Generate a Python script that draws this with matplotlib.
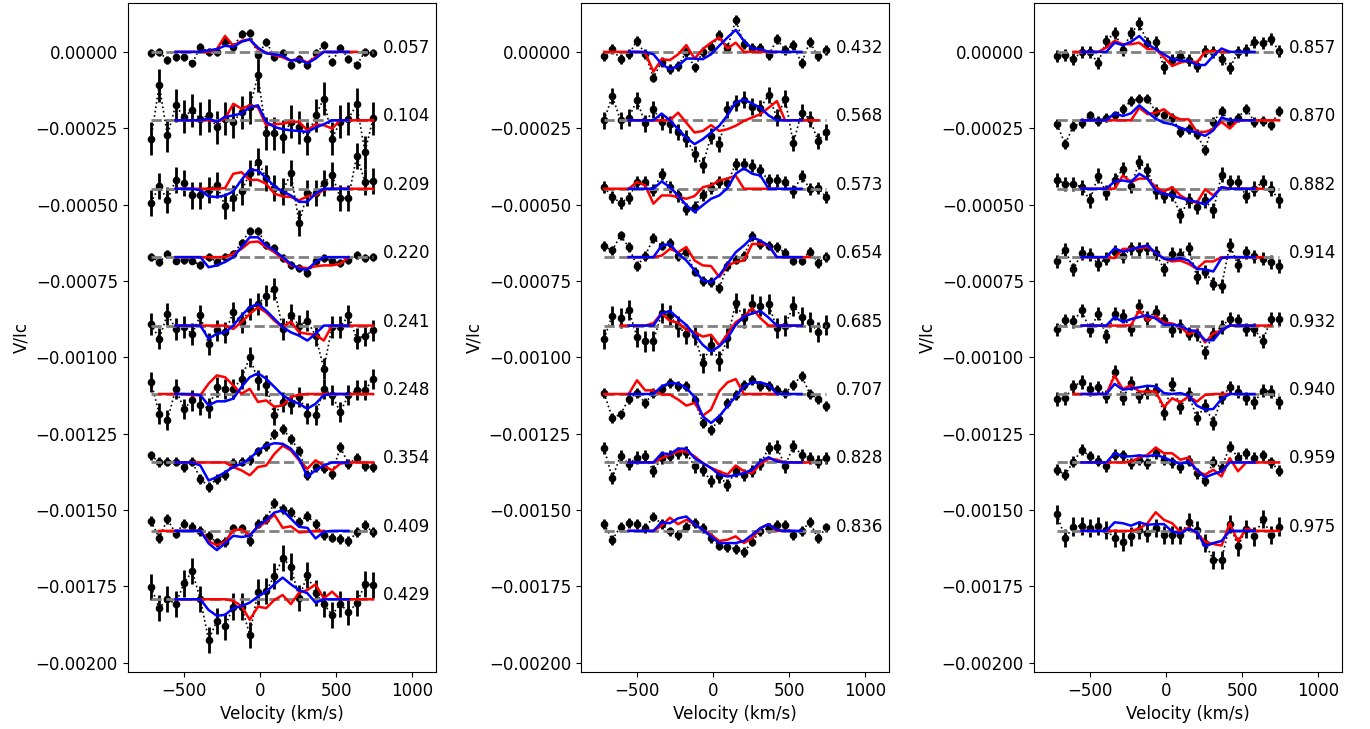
import numpy as np
import matplotlib
matplotlib.use('Agg')
import matplotlib.pyplot as plt
from matplotlib.ticker import FuncFormatter

# velocity grid of the LSD profiles (km/s)
vel = [-715, -661, -607, -553, -499, -445, -391, -337, -283, -229, -175, -121, -67, -13,
       41, 95, 149, 203, 257, 311, 365, 419, 473, 527, 581, 635, 689, 743]

# all V/Ic values below are in units of 1e-5
shift = 22.4

# ---- panel 1
phases_1 = ['0.057', '0.104', '0.209', '0.220', '0.241', '0.248', '0.354', '0.409', '0.429']
obs_1 = [
    [-0.5, 0, -2.7, -1.6, -1.6, -3.8, 1.6, 0, 0, 3.6, 1.6, 5.8, 6.1, -1.1, 3.3, -1.6, -0.5, -4.3, -2.2, -4.3, -0.5, 2.2, -3.3, 1.4, -2.2, -4.3, 0, -0.5],
    [-6.0, 11.4, -4.9, 4.9, 1.1, 3.3, 0.5, 1.6, -2.2, 0.5, -0.5, 2.7, 4.3, 14.7, -4.3, -4.3, -5.4, -0.5, -2.2, -6.0, 1.6, 7.1, -6.0, -0.5, 0.5, 5.2, -10.4, 0.7],
    [-4.6, 0.8, -3.6, 2.9, 1.8, -2.2, -2.2, -0.3, 1.3, -5.7, -3.0, -0.9, 5.1, 8.9, 3.5, 0.2, -0.9, 5.1, -11.2, -1.4, -1.4, 1.8, 4.6, -3.0, -3.0, 10.8, 2.3, 2.5],
    [0.2, -1.6, 1.1, -1.1, -0.9, -1.1, -2.7, 0.2, -1.6, 0.2, 1.1, 4.6, 8.7, 8.7, 4.0, 2.9, -0.3, -2.5, -3.6, -5.2, -1.4, -0.3, -1.4, -2.0, -0.9, 0.8, -0.3, 0],
    [0.5, -4.3, 3.8, -1.1, -0.5, -2.7, 3.3, -6.0, -1.6, -2.2, 4.3, 1.1, 5.4, 7.1, 9.8, 12.0, -1.1, 3.5, 0, 1.6, -3.3, -14.1, -0.5, -0.5, 3.3, -4.3, -3.3, -1.6],
    [3.9, -6.4, -8.6, 1.7, -4.8, -2.1, -3.7, -4.6, 2.3, 1.7, 1.7, 5.0, 12.1, 4.5, 2.8, -7.0, -2.6, -3.2, -1.0, -6.4, -7.0, 1.7, -0.4, -5.9, -0.4, 1.2, 1.2, 5.0],
    [2.3, 0.1, 0.3, 0.3, -1.5, 0.3, -5.3, -8.0, -5.3, -4.2, -0.2, 0.3, 0.7, 3.6, 5.5, 9.3, 11.0, 7.7, 3.9, -4.2, -1.5, -1.8, -3.7, 5.0, -0.4, 1.4, -1.3, -1.5],
    [3.2, -2.3, 3.8, -0.9, 2.4, 1.3, 0, -1.7, -3.8, -3.6, 0.8, 0.8, -3.3, 2.4, 3.8, 9.2, 7.1, 6.2, 2.9, 4.9, 2.2, -1.4, -2.2, -2.7, -3.4, -0.5, 1.8, -0.5],
    [4.1, -2.9, 0.1, -1.6, 5.2, 9.2, 0.1, -13.3, -7.1, -8.9, -2.4, -2.4, -11.6, 2.5, 2.7, 7.7, 13.4, 10.7, 0.5, 7.9, 2.0, -1.6, -5.1, -1.6, -4.2, -1.3, 4.9, 4.7],
]
err_1 = [1.3, 5.4, 4.3, 1.3, 3.5, 3.3, 1.6, 1.6, 4.3]
# models on grid points 3..24
blue_1 = [
    [0, 0, 0, 0, 0.5, 0.9, 2.0, 1.6, 3.3, 4.1, 1.4, -0.5, -0.8, -1.3, -2.9, -2.4, -3.8, -2.2, 0, 0, 0, 0],
    [0, 0, 0, 0, 0.5, -0.5, 1.1, 1.6, 2.2, 4.3, 4.9, -0.5, -2.2, -2.9, -3.3, -3.5, -3.8, -2.4, -1.3, 0, 0, 0],
    [0, 0, 0, -0.5, -2.5, -2.7, -2.2, -0.9, 2.9, 6.2, 6.0, 3.5, 0.8, -0.9, -2.2, -4.3, -4.3, -1.6, 0, 0, 0, 0],
    [0, 0, 0, 0, -3.3, -2.7, -1.6, 0, 3.3, 6.5, 6.5, 3.8, 2.2, 0, -2.2, -3.8, -4.1, -1.6, 0, 0, 0, 0],
    [0, 0, 0, 0, -4.3, -2.7, -2.2, 0, 3.3, 6.0, 7.1, 4.9, 2.2, -0.5, -2.2, -3.3, -4.9, -2.7, 0, 0, 0, 0],
    [0, 0, 0, -0.4, -3.7, -2.4, -2.4, -1.5, 2.3, 5.5, 6.8, 5.0, 2.3, -0.4, -2.1, -3.2, -4.8, -3.2, -0.4, 0, 0, 0],
    [0, 0, 0, -1.0, -5.9, -4.8, -3.2, -1.5, -0.4, 1.2, 3.9, 5.5, 6.3, 6.1, 4.5, 1.2, -4.6, -2.6, -1.0, 0, 0, 0],
    [0, 0, 0, 0, -4.1, -6.3, -4.1, -1.6, -2.0, -1.6, 1.6, 3.5, 6.0, 6.7, 4.0, 1.3, 1.0, -2.5, -0.3, 0, 0, 0],
    [0, 0, 0, 0, -3.5, -5.4, -5.1, -2.9, -2.2, -1.1, 0.9, 2.5, 4.9, 7.1, 4.9, 3.0, 2.0, -1.1, 0, 0, 0, 0],
]
red_1 = [
    [0, 0, 0, 0, 0, 0.9, 5.2, 2.0, 3.6, 4.1, 0.9, -0.2, -1.1, -1.8, -2.9, -2.2, -3.5, -1.8, 0, 0, 0, 0],
    [0, 0, 0, 0, 0, -0.5, 0.5, 5.4, 3.8, 4.9, 4.3, -1.6, -1.3, -1.1, -0.5, -0.5, -3.3, -1.3, -1.6, -2.7, 0, 0],
    [0, 0, 0, 0, 0, 0, 0.2, 4.9, 5.4, 2.9, 2.9, 1.6, -1.6, -2.5, -2.7, -3.8, -2.5, -2.2, -0.3, 0, 0, 0],
    [0, 0, 0, 0, 0, 0, 0, 1.1, 2.7, 4.9, 5.1, 3.3, 1.6, -0.5, -2.7, -3.3, -3.6, -3.0, -2.7, -2.7, -2.2, 0],
    [0, 0, 0, 0, 0, 0, 0, -1.1, 1.1, 3.8, 6.0, 4.3, 1.6, -0.5, 1.3, -2.2, -2.7, -3.0, -4.9, 0, 0, 0],
    [0, 0, -0.4, -0.4, 3.4, 6.1, 5.5, 2.8, 0.1, 1.7, -2.6, -2.1, -4.2, -3.7, -1.0, -0.2, 0, 0, 0, 0, 0, 0],
    [0, 0, 0, 0, 0, 0, 0, -1.5, -2.6, -4.2, -1.5, -1.0, 2.8, 5.5, 3.9, 0.7, -2.1, 0.7, -1.0, -2.6, -0.4, 0],
    [0, 0, 0, 0, -3.4, -4.7, -3.6, 0.2, 0.5, -1.4, 1.3, 2.9, 5.3, 1.0, 1.5, -0.5, -0.3, 0, 0, 0, 0, 0],
    [0, 0, 0, 0, 0, 0, 0, -0.5, -2.2, -6.7, -2.4, -2.9, -0.2, 1.4, -1.6, 2.2, 3.0, 4.9, 0.3, 2.5, 0, 0],
]
red_span_1 = [(3, 25), (3, 27), (3, 27), (3, 24), (3, 27), (1, 27), (3, 27), (1, 21), (3, 27)]

# ---- panel 2
phases_2 = ['0.432', '0.568', '0.573', '0.654', '0.685', '0.707', '0.828', '0.836']
obs_2 = [
    [-1.5, 0.9, -2.4, -0.8, 3.6, -0.8, -8.4, -3.3, -5.7, -4.6, 0, -5.1, 0, 1.6, 5.4, 1.4, 10.4, 2.5, 1.4, 1.4, -1.1, 4.1, 0.7, 2.2, -3.7, 3.3, -1.5, 0.7],
    [0, 7.9, 0, 0.9, 6.5, -1.0, 3.6, -0.5, -1.3, -3.8, -6.0, -11.1, -14.7, -5.1, -7.8, 3.6, 5.7, 6.8, 4.5, 4.1, 8.2, 0.9, 7.1, -7.5, 2.5, 0.5, -6.7, -3.8],
    [0.5, -2.7, -4.6, -3.0, 2.2, 2.2, -0.5, 4.9, 0.5, -2.2, -6.7, -6.0, -2.0, 0.2, 2.2, 1.8, 8.2, 8.2, 7.6, 6.0, 2.7, 2.7, 2.2, -0.9, 4.1, 0, 0.2, -2.7],
    [3.6, 2.2, 7.1, 3.3, -2.9, 0.5, 6.2, 3.8, 4.7, 0.5, 1.6, -4.7, -7.9, -8.2, -10.1, -2.9, -0.8, 0.5, 6.8, 4.3, 3.8, 3.3, 1.4, -1.1, -1.1, 1.8, -1.8, 0],
    [-4.3, 3.2, 2.4, 5.1, -3.6, -5.2, -5.0, 4.0, 3.3, -0.3, -2.8, -3.0, -12.3, -6.3, -11.5, -4.1, 7.3, 2.4, 7.0, 6.5, 7.0, -0.9, 0, 6.5, 2.9, 1.3, -2.2, 0.2],
    [0.3, -7.8, -6.7, -1.6, 0.3, -2.9, 0.3, 1.6, 3.6, 2.7, 2.5, -1.8, -9.5, -11.8, -8.2, -2.9, -0.2, 3.0, 4.7, 2.5, 2.7, 1.4, 0.3, 3.0, 6.0, 0.1, -1.6, -3.8],
    [4.7, -5.1, 2.2, -0.5, 1.6, 2.2, -2.9, 1.6, 2.2, 3.0, 3.3, -1.3, -2.4, -6.2, -4.6, -7.3, -2.9, -4.1, -2.9, -0.5, 4.7, 5.2, -1.3, 5.5, 2.5, 1.4, 0.3, 1.4],
    [2.2, -2.9, 1.4, 2.5, 2.2, 0.9, 4.7, 2.2, -0.2, -1.3, 1.4, 2.5, 0.9, -2.4, -4.8, -5.4, -5.9, -7.0, -3.5, -0.2, 0.9, 2.0, 2.0, -1.3, 0, 2.8, -2.4, 1.1],
]
err_2 = [1.6, 2.7, 2.0, 1.6, 3.3, 1.6, 2.0, 1.6]
blue_2 = [
    [0, 0, 0, -0.8, -4.0, -5.7, -4.6, -2.2, -2.2, -2.4, -0.8, 2.0, 4.7, 7.2, 3.6, 1.1, 0.9, 0, 0, 0, 0, 0],
    [0, 0, 0, 0, 2.2, 0, -2.9, -5.7, -7.8, -6.2, -4.0, -1.8, 1.6, 5.8, 6.8, 5.5, 4.1, 1.6, 0, 0, 0, 0],
    [0, 0, 0, 0, 2.4, 0.5, -2.2, -5.4, -7.6, -5.4, -3.3, -2.2, 0.2, 4.9, 6.7, 4.9, 4.3, 0, 0, 0, 0, 0],
    [0, 0, 0, 0, 3.8, 4.3, 1.1, -1.1, -4.3, -7.6, -8.2, -6.0, -2.2, 1.6, 3.8, 6.5, 5.4, 3.8, 0, 0, 0, 0],
    [0, 0, 0, 0, 4.0, 4.8, 2.4, 0.2, -3.0, -6.3, -8.5, -6.8, -4.1, 0.2, 2.9, 4.0, 4.8, 2.6, 0, 0, 0, 0],
    [0, 0, 0, 0, 2.5, 3.6, 3.4, 2.0, -1.0, -7.3, -9.5, -7.3, -4.0, -0.8, 2.5, 3.8, 3.8, 3.0, 0, 0, 0, 0],
    [0, 0, 0, 0, 3.0, 2.7, 4.5, 4.5, 1.4, -0.2, -1.8, -4.0, -4.6, -4.2, -3.5, -2.4, 0.3, 1.7, 0.3, 0, 0, 0],
    [0, 0, 0, 0, 2.8, 2.5, 4.1, 4.7, 2.2, 0.3, -1.8, -4.0, -4.0, -4.0, -3.3, -1.3, 0.9, 2.2, 0.3, 0, 0, 0],
]
red_2 = [
    [0, 0, -0.2, -6.5, -2.4, -2.7, -0.8, 2.2, -2.2, 0.9, 3.0, 4.7, 1.1, 3.0, 0, 0, 0, 0, 0, 0, 0, 0],
    [0, 0, 0, 0, 0, 0, 2.5, -0.8, -4.0, -3.5, -1.6, -3.5, -2.9, -1.8, -0.2, 0.9, 2.0, 4.1, 6.3, 0, 0, 0],
    [0, 2.2, 1.1, -4.9, -2.2, -2.2, -2.7, -3.3, -2.4, 0.5, 1.1, 2.7, 3.3, 4.3, 0, 0, 0, 0, 0, 0, 0, 0],
    [0, 0, 0, 0, 0.5, 2.7, 1.6, 3.3, -1.1, -2.7, -2.9, -6.5, -2.7, -1.6, -1.1, 4.3, 4.3, 3.8, 0, 0, 0, 0],
    [0, 0, 0, 0.8, 4.0, 1.5, 1.0, -1.4, -2.2, -3.6, -3.0, -6.5, -2.8, 1.1, 2.9, 5.7, 2.4, 0, 0, 0, 0, 0],
    [0, 4.5, 1.2, 1.2, -0.2, -0.2, -1.8, -3.8, -2.9, -7.1, -5.1, 0.9, 3.8, 4.9, 0, 0, 0, 0, 0, 0, 0, 0],
    [0, 0, 0, 0, 1.4, 2.5, 3.6, 3.6, 2.0, -0.2, -1.8, -2.9, -4.0, -1.0, -2.9, -3.5, -0.5, 1.2, 0.9, 0, 0, 0],
    [0, 0, 0, 0, 1.7, 4.3, 2.2, 3.6, 2.2, 0.3, -1.3, -3.3, -2.9, -1.8, -4.0, -2.4, 0.9, 2.2, 0, 0, 0, 0],
]
red_span_2 = [(0, 21), (3, 26), (0, 21), (3, 25), (2, 24), (0, 21), (3, 25), (3, 23)]

# ---- panel 3
phases_3 = ['0.857', '0.870', '0.882', '0.914', '0.932', '0.940', '0.959', '0.975']
obs_3 = [
    [-1.3, -1.1, -2.4, 0, 0, -3.7, 3.6, 6.3, 0.7, 6.1, 9.3, 3.0, 3.3, -5.1, -2.6, -1.3, -2.6, -4.6, 0.3, 0, -2.4, -5.4, 0, 0.7, 3.3, 2.8, 4.1, 0.3],
    [-1.3, -7.8, -1.8, -1.0, 1.6, -0.2, 0.9, 1.6, 3.8, 6.3, 7.1, 7.1, 2.7, 1.6, 0.9, -3.8, -2.9, -4.6, -9.7, -0.5, 3.0, -0.5, 0.9, 3.8, -0.5, -0.2, -1.6, 3.0],
    [2.9, 1.6, 1.6, 0.5, -3.8, 4.3, -1.3, 2.7, 6.5, 0.9, 8.7, 6.0, -0.9, -2.4, -1.6, -8.7, -3.8, -6.0, -3.8, -7.1, 4.6, 2.2, 2.2, -2.4, 0, 2.2, 0, -3.8],
    [-1.4, 2.5, -4.0, 1.4, 0.8, -2.2, -0.5, 1.8, 0.3, 2.9, 2.7, 2.9, 1.4, -4.0, 1.1, 0.8, 2.9, -6.5, -4.7, -8.7, -9.5, 4.0, -2.5, 1.6, 0.3, -0.5, -1.6, -2.9],
    [-1.2, 1.7, 1.4, 5.0, -1.5, 3.9, -3.4, 3.9, 3.2, -1.2, 6.4, 2.5, 4.5, 1.7, -1.5, -0.1, -2.6, -2.9, -8.8, -2.6, -0.4, 2.3, 1.7, -1.2, -1.2, -5.1, 2.1, 2.1],
    [-1.6, -1.4, 2.5, 4.0, 1.6, 2.2, -0.8, 7.3, -1.4, 3.6, -0.8, 0.5, 1.4, -6.2, 3.3, -4.3, 0, -7.9, -3.8, -9.5, -1.1, 2.2, 0.8, -1.4, -2.7, 1.1, 0.8, -2.7],
    [-2.4, -4.0, 0.3, 4.1, 2.0, 0.5, -1.3, 2.5, 2.3, -0.2, 0.9, -0.2, 3.0, 0.9, 0.1, -1.6, 0.5, -3.5, -6.0, 0.3, -1.8, 5.2, 1.6, 3.0, 1.6, 2.3, 0.1, -2.7],
    [5.4, -2.4, 1.4, 1.7, 0.9, 1.7, 0.3, -2.4, -3.5, -1.8, 0.3, -0.8, 0.9, -1.3, -1.3, -1.3, 3.0, 0.3, -4.0, -9.5, -9.5, 2.2, -5.1, 0.7, -1.8, 3.9, -1.3, 1.4],
]
err_3 = [2.0, 1.6, 2.4, 2.2, 2.2, 2.2, 1.8, 3.0]
blue_3 = [
    [0, 0, 0, 0, 3.0, 2.2, 3.3, 5.2, 2.5, 0.9, -0.8, -2.4, -2.9, -2.9, -4.3, -4.3, -1.3, 1.1, 0, 0, 0, 0],
    [0, 0, 0, 0, 2.3, 1.4, 2.3, 4.9, 2.7, 0.5, -0.8, -1.3, -2.4, -3.3, -4.0, -5.1, -3.3, 0.9, 0, 0, 0, 0],
    [0, 0, 0, 0, 2.4, 2.7, 2.2, 4.9, 3.3, -0.5, -1.6, -2.2, -3.0, -3.8, -4.3, -5.2, -2.7, 0.5, 0, 0, 0, 0],
    [0, 0, 0, 0, 2.9, 1.8, 2.5, 3.3, 3.8, 1.4, -0.5, -0.8, -0.3, -1.1, -3.8, -4.0, -4.7, -0.3, 0, 0, 0, 0],
    [0, 0, 0, 0, 2.8, 1.2, 2.1, 2.8, 3.4, 2.3, 0.3, 0.3, -0.1, -1.5, -1.8, -4.8, -4.8, -1.5, 0, 0, 0, 0],
    [0, 0, 0, 0, 3.3, 1.4, 1.8, 2.2, 2.7, 2.5, 0.3, 0, 0.3, -0.5, -3.8, -5.1, -4.9, -1.6, 0, 0, 0, 0],
    [0, 0, 0, 0, 3.0, 2.0, 2.0, 2.3, 2.0, 2.5, 1.6, 0.5, -0.5, 0.3, -2.4, -4.9, -3.8, -2.9, 0, 0, 0, 0],
    [0, 0, 0, 0, 2.8, 2.5, 1.7, 2.8, 2.0, 2.2, 2.2, -0.2, -0.8, 0.7, -0.4, -5.1, -4.0, -3.3, 0, 0, 0, 0],
]
red_3 = [
    [0, 0, 0, 1.4, 3.6, 2.5, 2.5, 3.0, 0.9, 0.9, -1.8, -4.6, -3.5, -2.9, -3.5, 0, 0.3, 0, 0, 0, 0, 0],
    [0, 0, 0, 0, 0, 0, 0, 4.1, 2.0, 2.5, 3.6, 1.4, 0.3, 0.3, -3.8, -3.8, -2.9, -0.5, -2.7, 0, 0, 0],
    [0, 0, 0, 0, 0, 4.3, 2.2, 3.3, 3.3, 0.5, -0.9, 0.5, -2.2, -3.8, -4.6, -0.2, -2.2, 0.5, 0, 0, 0, 0],
    [0, 0, 0, 0, -0.3, 2.7, 2.7, 2.9, 3.3, 1.4, -0.5, -1.4, -1.1, -2.2, -3.8, -1.4, -1.4, 0, 0, 0, 0, 0],
    [0, 0, 0, 0, 0, 0, 0.1, 5.0, 1.7, 3.2, 1.0, 0.7, -0.4, -2.9, -1.5, -5.5, -2.6, -1.5, 0, 0, 0, 0],
    [0, 0, 0, 0, 6.0, 1.6, 2.9, 0.8, 0.8, 0.8, -4.3, -1.4, -2.7, -0.8, -2.5, -0.3, 0, 0, 0, 0, 0, 0],
    [0, 0, 0, 0, 0, 0, 0.3, 1.6, 2.5, 4.9, 3.0, 3.0, 0.9, 1.6, -2.9, -4.0, -2.4, -4.6, 1.4, -2.9, 0, 0],
    [0, 0, 0, 0, 0, 0, 0, 0.7, 2.5, 6.1, 3.6, 2.5, -0.4, 1.1, -0.8, -3.5, -4.3, -4.8, 2.5, -3.5, 0.7, 0],
]
red_span_3 = [(2, 21), (3, 27), (3, 25), (3, 25), (3, 26), (2, 21), (3, 27), (3, 27)]

panels = [
    (phases_1, obs_1, err_1, blue_1, red_1, red_span_1),
    (phases_2, obs_2, err_2, blue_2, red_2, red_span_2),
    (phases_3, obs_3, err_3, blue_3, red_3, red_span_3),
]

v = np.array(vel, dtype=float)


def on_grid(model, lo, hi):
    full = np.zeros(len(vel))
    full[3:25] = model
    out = np.full(len(vel), np.nan)
    out[lo:hi + 1] = full[lo:hi + 1]
    return out


def fmt(y, pos):
    s = '%.5f' % y
    if s == '-0.00000':
        s = '0.00000'
    return s.replace('-', '\u2212')


plt.rcParams['font.size'] = 12

fig = plt.figure(figsize=(13.7, 7.29), dpi=100)
lefts = [0.0932, 0.4239, 0.7545]

for left, (phases, obs, err, blue, red, spans) in zip(lefts, panels):
    ax = fig.add_axes([left, 0.0782, 0.225, 0.9177])
    for k, ph in enumerate(phases):
        off = -k * shift
        y = (np.array(obs[k]) + off) * 1e-5
        ax.plot(v, y, ':', color='k', lw=1.2, zorder=2)
        ax.errorbar(v, y, yerr=err[k] * 1e-5, fmt='o', color='k', ms=4.5,
                    elinewidth=2, capsize=0, zorder=3)
        ax.plot([v[0], v[-1]], [off * 1e-5, off * 1e-5], '--', color='gray',
                lw=2, zorder=4)
        vb = on_grid(blue[k], 3, 24)
        vr = on_grid(red[k], spans[k][0], spans[k][1])
        ax.plot(v, (vr + off) * 1e-5, color='red', lw=1.8, zorder=5)
        ax.plot(v, (vb + off) * 1e-5, color='blue', lw=1.8, zorder=6)
        ax.text(805, (off + 1.3) * 1e-5, ph, va='center', ha='left', fontsize=12)
    ax.set_xlim(-868, 1155)
    ax.set_ylim(-0.00203, 0.00016)
    ax.set_xticks([-500, 0, 500, 1000])
    ax.set_yticks(np.arange(0, -0.00201, -0.00025))
    ax.yaxis.set_major_formatter(FuncFormatter(fmt))
    ax.set_xlabel('Velocity (km/s)')
    ax.set_ylabel('V/Ic')

fig.savefig('out.png', dpi=100)
